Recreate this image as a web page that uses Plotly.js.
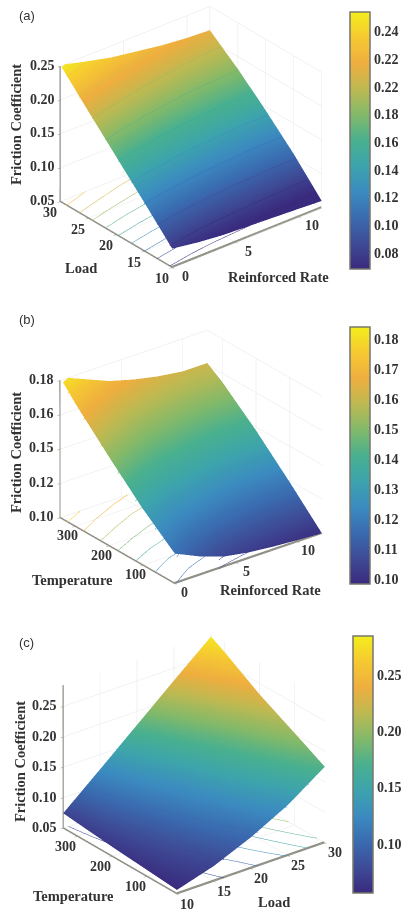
<!DOCTYPE html>
<html><head><meta charset="utf-8">
<script src="https://cdn.plot.ly/plotly-3.0.1.min.js"></script>
<style>html,body{margin:0;padding:0;background:#fff}#p{width:402px;height:909px}</style></head>
<body><div id="p"></div>
<script>
const parula=[[0,'#3a2a7e'],[0.1,'#3e4b96'],[0.2,'#3a6bb0'],[0.3,'#3b8bc0'],[0.4,'#3da3ad'],[0.5,'#49b08f'],[0.6,'#82b96a'],[0.7,'#bdb952'],[0.8,'#eeae3f'],[0.9,'#f6c932'],[1,'#f3ee1c']];
// Panel (a)
const aRate=[0,2,4,6,8,10,11.8];
const aLoad=[10,15,20,25,30];
const aZ=[
[0.078,0.072,0.068,0.066,0.064,0.062,0.060],
[0.122,0.116,0.112,0.109,0.107,0.105,0.105],
[0.165,0.158,0.153,0.149,0.147,0.145,0.145],
[0.208,0.200,0.194,0.189,0.185,0.183,0.182],
[0.252,0.242,0.233,0.227,0.221,0.217,0.215]];
const aXTicks=[0,5,10], aYTicks=[10,15,20,25,30], aZTicks=[0.05,0.10,0.15,0.20,0.25];
const aBarVals=[0.08,0.10,0.12,0.14,0.16,0.18,0.20,0.22,0.24];
const aBarText=['0.08','0.10','0.12','0.14','0.16','0.18','0.22','0.22','0.24'];
// Panel (b)
const bRate=[0,2,4,6,8,10,12];
const bTemp=[5,100,200,300,344];
const bZ=[
[0.1175,0.111,0.106,0.1035,0.102,0.101,0.100],
[0.133,0.128,0.125,0.122,0.120,0.119,0.119],
[0.152,0.147,0.143,0.141,0.139,0.138,0.138],
[0.172,0.166,0.161,0.158,0.156,0.155,0.155],
[0.182,0.176,0.170,0.166,0.163,0.161,0.161]];
const bXTicks=[0,5,10], bYTicks=[100,200,300];
const bBarVals=[0.10,0.11,0.12,0.13,0.14,0.15,0.16,0.17,0.18];
const bZTicks=[0.10,0.12,0.14,0.16,0.18];
const bZText=['0.10','0.12','0.15','0.16','0.18'];
// Panel (c)
const cLoad=[10,15,20,25,30];
const cTemp=[12,100,200,300,340];
const cZ=[
[0.0566,0.075,0.101,0.133,0.175],
[0.061,0.087,0.118,0.156,0.202],
[0.066,0.101,0.138,0.182,0.232],
[0.072,0.119,0.164,0.214,0.268],
[0.0746,0.126,0.178,0.230,0.281]];
const cXTicks=[10,15,20,25,30], cYTicks=[100,200,300], cZTicks=[0.05,0.10,0.15,0.20,0.25];
const cBarVals=[0.10,0.15,0.20,0.25];
// Axis ranges
const aXR=[0,11.8], aYR=[10,30], aZR=[0.05,0.25];
const bXR=[0,12], bYR=[5,344], bZR=[0.10,0.18];
const cXR=[10,30], cYR=[12,340], cZR=[0.05,0.285];

const serif={family:'Liberation Serif',size:14,color:'#333',weight:700};
function axis(range,ticks){return {title:{text:''},range:range,tickmode:'array',tickvals:ticks,showticklabels:false,showbackground:false,gridcolor:'#e6e6e6',gridwidth:1,
  showline:true,linecolor:'#8f8f85',linewidth:2,zeroline:false,showspikes:false,ticks:'outside',ticklen:3,tickcolor:'#8a8a80',tickwidth:1};}
function bar(x,y,vals,text){return {thickness:20,thicknessmode:'pixels',len:257,lenmode:'pixels',x:x,xanchor:'left',xpad:0,y:y,yanchor:'top',ypad:0,
  outlinecolor:'#77776d',outlinewidth:1.5,tickvals:vals,ticktext:text,ticks:'',tickfont:serif};}
const light={ambient:1,diffuse:0,specular:0,roughness:1,fresnel:0};
function surf(x,y,z,scene,cbar,cmin,cmax){return {type:'surface',x:x,y:y,z:z,scene:scene,colorscale:parula,cmin:cmin,cmax:cmax,colorbar:cbar,lighting:light,hoverinfo:'skip'};}
// floor contour projection only: hidden surface sitting just under the visible one
function floorLines(x,y,z,scene,cmin,cmax,start,end,size){return {type:'surface',x:x,y:y,z:z.map(r=>r.map(v=>v-0.002)),scene:scene,hidesurface:true,showscale:false,colorscale:parula,cmin:cmin,cmax:cmax,hoverinfo:'skip',
  contours:{z:{show:true,start:start,end:end,size:size,usecolormap:true,width:2,project:{z:true}}}};}
// heavy grey axis edges: z axis and both floor edges, held a hair inside the box so they are not clipped
function axisEdges(xr,yr,zr,scene){const dy=(yr[1]-yr[0])*0.006,dz=(zr[1]-zr[0])*0.004;return {type:'scatter3d',mode:'lines',scene:scene,hoverinfo:'skip',showlegend:false,
  x:[xr[0],xr[0],xr[0],xr[1]],y:[yr[1],yr[1],yr[0]+dy,yr[0]+dy],z:[zr[1],zr[0]+dz,zr[0]+dz,zr[0]+dz],line:{color:'#8f8f85',width:2.5}};}
function tickNotes(vals,texts,pt,dx,dy){return vals.map((v,i)=>Object.assign(pt(v),{text:texts[i],showarrow:false,xanchor:'center',yanchor:'middle',xshift:dx,yshift:dy,font:serif}));}
const fmt=v=>v.toFixed(2), str=v=>String(v);
const H=909,W=402;
const traces=[
 surf(aRate,aLoad,aZ,'scene',bar(350/W,1-12/H,aBarVals,aBarText),0.0684,0.254),
 floorLines(aRate,aLoad,aZ,'scene',0.0684,0.254,0.08,0.25,0.02),
 axisEdges(aXR,aYR,aZR,'scene'),
 surf(bRate,bTemp,bZ,'scene2',bar(350/W,1-327/H,bBarVals,bBarVals.map(fmt)),0.0985,0.184),
 floorLines(bRate,bTemp,bZ,'scene2',0.0985,0.184,0.105,0.18,0.01),
 axisEdges(bXR,bYR,bZR,'scene2'),
 surf(cLoad,cTemp,cZ,'scene3',bar(353/W,1-636/H,cBarVals,cBarVals.map(fmt)),0.056,0.285),
 floorLines(cLoad,cTemp,cZ,'scene3',0.056,0.285,0.08,0.28,0.025),
 axisEdges(cXR,cYR,cZR,'scene3')
];
const ortho={type:'orthographic'};
const layout={width:W,height:H,autosize:false,margin:{l:0,r:0,t:0,b:0},paper_bgcolor:'#fff',showlegend:false,
 scene:{domain:{x:[0,382/W],y:[1-274/H,1]},aspectmode:'manual',aspectratio:{x:1.416,y:1.285,z:1.131},
   camera:{projection:ortho,eye:{x:-0.866,y:-1.051,z:0.756},center:{x:0,y:0,z:0}},
   xaxis:axis(aXR,aXTicks),yaxis:axis(aYR,aYTicks),zaxis:axis(aZR,aZTicks),
   annotations:[].concat(
     tickNotes(aXTicks,aXTicks.map(str),v=>({x:v,y:10,z:0.05}),13,-9),
     tickNotes(aYTicks,aYTicks.map(str),v=>({x:0,y:v,z:0.05}),-10,-11),
     tickNotes(aZTicks,aZTicks.map(fmt),v=>({x:0,y:30,z:v}),-18,1))},
 scene2:{domain:{x:[0,382/W],y:[1-596.5/H,1-316.5/H]},aspectmode:'manual',aspectratio:{x:1.329,y:1.343,z:1.093},
   camera:{projection:ortho,eye:{x:-0.815,y:-1.057,z:0.658},center:{x:0,y:0,z:0}},
   xaxis:axis(bXR,bXTicks),yaxis:axis(bYR,bYTicks),zaxis:axis(bZR,bZTicks),
   annotations:[].concat(
     tickNotes(bXTicks,bXTicks.map(str),v=>({x:v,y:5,z:0.10}),10,-9),
     tickNotes(bYTicks,bYTicks.map(str),v=>({x:0,y:v,z:0.10}),-7,-10),
     tickNotes(bZTicks,bZText,v=>({x:0,y:344,z:v}),-18,1))},
 scene3:{domain:{x:[0,388/W],y:[1-908.5/H,1-618.5/H]},aspectmode:'manual',aspectratio:{x:1.29,y:1.283,z:1.103},
   camera:{projection:ortho,eye:{x:-0.853,y:-1.102,z:0.697},center:{x:0,y:0,z:0}},
   xaxis:axis(cXR,cXTicks),yaxis:axis(cYR,cYTicks),zaxis:axis(cZR,cZTicks),
   annotations:[].concat(
     tickNotes(cXTicks,cXTicks.map(str),v=>({x:v,y:14,z:0.05}),11,-11),
     tickNotes(cYTicks,cYTicks.map(str),v=>({x:10,y:v,z:0.05}),-11,-11),
     tickNotes(cZTicks,cZTicks.map(fmt),v=>({x:10,y:340,z:v}),-19,0))},
 annotations:[
  ['(a)',27,16],['(b)',27,319],['(c)',26,642]].map(a=>({text:a[0],xref:'paper',yref:'paper',x:a[1]/W,y:1-a[2]/H,xanchor:'center',yanchor:'middle',showarrow:false,font:{family:'Liberation Sans',size:13,color:'#333'}}))
 .concat([
  ['Friction Coefficient',16,125,-90],['Load',81,268,0],['Reinforced Rate',278,277,0],
  ['Friction Coefficient',16,453,-90],['Temperature',72,580,0],['Reinforced Rate',270,590,0],
  ['Friction Coefficient',20,762,-90],['Temperature',73,896,0],['Load',274,902,0]
 ].map(a=>({text:'<b>'+a[0]+'</b>',xref:'paper',yref:'paper',x:a[1]/W,y:1-a[2]/H,xanchor:'center',yanchor:'middle',showarrow:false,textangle:a[3],font:{family:'Liberation Serif',size:14.5,color:'#333'}})))
};
Plotly.newPlot('p',traces,layout,{displayModeBar:false});
</script></body></html>
